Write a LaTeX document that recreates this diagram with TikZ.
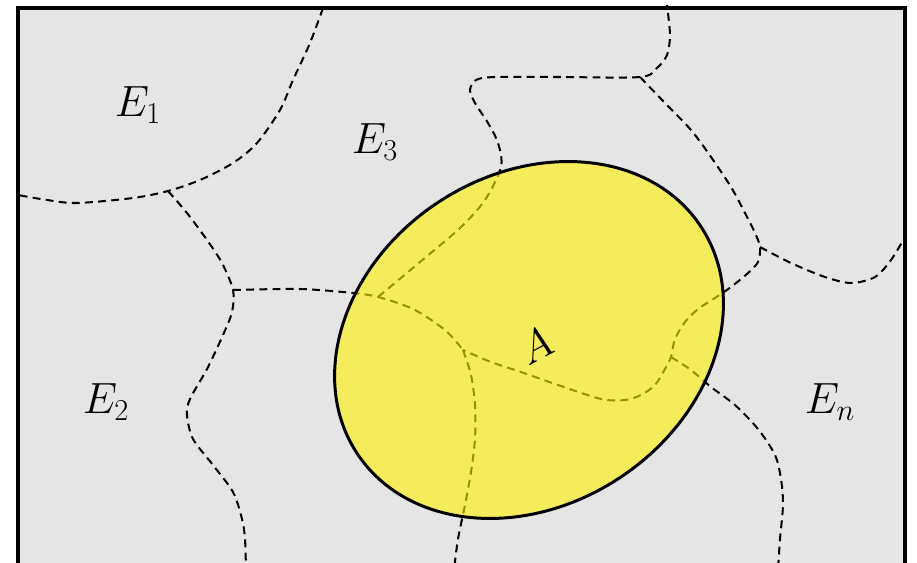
\documentclass[tikz,border=0pt]{standalone}
\usepackage{amsmath,amssymb}
\usepackage{tikz}

\begin{document}
\begin{tikzpicture}[x=0.02cm, y=-0.02cm,
  cell/.style={dash pattern=on 4.5pt off 3pt, line width=1.15pt},
  lbl/.style={font=\fontsize{27}{30}\selectfont}]
\useasboundingbox (0,0) rectangle (917,562);
\clip (0,0) rectangle (917,562);
\fill[white] (0,0) rectangle (917,562);
\draw[line width=2pt, fill=black!10] (18,8) rectangle (905,600);

% junctions of the partition
\coordinate (j1) at (168,191);
\coordinate (j2) at (233,290);
\coordinate (j3) at (378,297);
\coordinate (j4) at (640,77);
\coordinate (j5) at (760,247);
\coordinate (j6) at (671,357);
\coordinate (j7) at (463,350);

% cell boundaries
\draw[cell] plot[smooth] coordinates {(323,8) (310,43) (293,80) (280,110) (257,143) (233,163) (200,180) (j1) (133,198) (77,203) (47,200) (18,195)};
\draw[cell] plot[smooth] coordinates {(j1) (187,213) (207,240) (222,263) (j2) (232,312) (223,335) (207,369) (190,399) (187,415) (193,439) (213,465) (233,492) (242,519) (245,539) (246,570)};
\draw[cell] plot[smooth] coordinates {(j2) (300,289) (353,293) (j3) (413,309) (445,330) (j7)};
\draw[cell] plot[smooth] coordinates {(j3) (420,262) (460,228) (485,200) (501,167) (498,143) (488,123) (475,103) (470,90) (476,80) (495,77) (560,77) (j4) (657,68) (667,55) (670,35) (667,5)};
\draw[cell] plot[smooth] coordinates {(j4) (665,103) (691,130) (711,157) (731,187) (745,213) (755,233) (j5) (758,262) (748,273) (731,287) (715,298) (698,309) (685,322) (675,339) (j6) (665,369) (655,385) (641,395) (625,400) (601,399) (558,385) (521,372) (491,362) (j7)};
\draw[cell] plot[smooth] coordinates {(j5) (791,263) (825,277) (851,283) (875,277) (891,260) (905,237)};
\draw[cell] plot[smooth] coordinates {(j6) (691,370) (711,387) (735,405) (758,429) (775,455) (781,479) (783,505) (780,539) (778,570)};
\draw[cell] plot[smooth] coordinates {(j7) (471,375) (475,405) (475,439) (471,472) (465,505) (458,539) (454,570)};

\node[lbl] (e1) at (138,105) {$E_1$};
\node[lbl] (e3) at (375,142) {$E_3$};
\node[lbl] (e2) at (106,402) {$E_2$};
\node[lbl] (en) at (830,402) {$E_n$};

% the set A
\draw[line width=1.7pt, fill=yellow, fill opacity=0.6, rotate around={33.5:(529,340)}] (529,340) ellipse [x radius=4.12cm, y radius=3.3cm];
\node[font=\fontsize{47}{50}\selectfont, rotate=28] (a) at (536,346) {$A$};
\end{tikzpicture}
\end{document}
